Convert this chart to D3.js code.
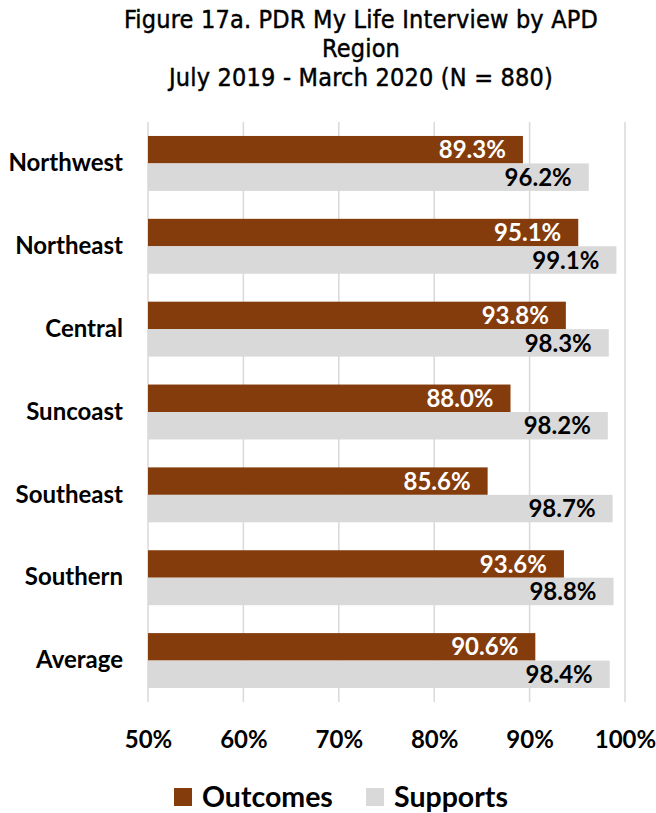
<!DOCTYPE html>
<html>
<head>
<meta charset="utf-8">
<script src="https://cdn.jsdelivr.net/npm/d3@7"></script>
<style>
  html, body { margin: 0; padding: 0; background: #fff; }
  svg { display: block; }
</style>
</head>
<body>
<svg id="chart" width="656" height="813"></svg>
<script>
const titleLines = ["Figure 17a. PDR My Life Interview by APD", "Region", "July 2019 - March 2020 (N = 880)"];
const categories = ["Northwest", "Northeast", "Central", "Suncoast", "Southeast", "Southern", "Average"];
const outcomes = [89.3, 95.1, 93.8, 88.0, 85.6, 93.6, 90.6];
const supports = [96.2, 99.1, 98.3, 98.2, 98.7, 98.8, 98.4];
const seriesNames = ["Outcomes", "Supports"];
const tickValues = [50, 60, 70, 80, 90, 100];
const tickLabels = ["50%", "60%", "70%", "80%", "90%", "100%"];

const colors = { Outcomes: "#843C0C", Supports: "#D9D9D9" };
const labelColors = { Outcomes: "#ffffff", Supports: "#000000" };
const font = "Lato, 'Open Sans', sans-serif";

const svg = d3.select("#chart");
const margin = { left: 148, right: 31, top: 122, bottom: 111 };
const W = 656, H = 813;

const x = d3.scaleLinear().domain([50, 100]).range([margin.left, W - margin.right]);
const y = d3.scaleBand().domain(categories).range([margin.top, H - margin.bottom]).paddingInner(0.337).paddingOuter(0.1685);
const ySub = d3.scaleBand().domain(seriesNames).range([0, y.bandwidth()]);

// title
const title = svg.append("text")
  .attr("text-anchor", "middle")
  .style("font-family", "'DejaVu Sans Condensed', 'Liberation Sans Narrow', sans-serif")
  .style("font-size", "25px")
  .style("letter-spacing", "0.2px")
  .style("fill", "#000")
  .style("stroke", "#000")
  .style("stroke-width", "0.45px");
titleLines.forEach((t, i) => {
  title.append("tspan").attr("x", 361).attr("y", 28 + i * 29).text(t);
});

// gridlines
svg.append("g").selectAll("line").data(tickValues).join("line")
  .attr("x1", d => x(d)).attr("x2", d => x(d))
  .attr("y1", margin.top).attr("y2", H - margin.bottom)
  .attr("stroke", "#d9d9d9").attr("stroke-width", 1.5);

// axis
const axis = d3.axisBottom(x).tickValues(tickValues).tickFormat((d, i) => tickLabels[i]).tickSize(0).tickPadding(0);
const ax = svg.append("g").attr("transform", `translate(0,${H - margin.bottom + 38})`).call(axis);
ax.select(".domain").remove();
ax.selectAll("text")
  .attr("dy", "0.35em")
  .style("font-family", font).style("font-weight", "bold").style("font-size", "24px").style("fill", "#000");

// category labels
const yAxis = d3.axisLeft(y).tickSize(0).tickPadding(25);
const ay = svg.append("g").attr("transform", `translate(${margin.left},0)`).call(yAxis);
ay.select(".domain").remove();
ay.selectAll("text")
  .style("font-family", font).style("font-weight", "bold").style("font-size", "24px").style("fill", "#000");

// bars
const rows = categories.map((c, i) => ({ cat: c, Outcomes: outcomes[i], Supports: supports[i] }));
const g = svg.append("g").selectAll("g").data(rows).join("g")
  .attr("transform", d => `translate(0,${y(d.cat)})`);

seriesNames.forEach(s => {
  g.append("rect")
    .attr("x", x(50))
    .attr("y", ySub(s))
    .attr("width", d => x(d[s]) - x(50))
    .attr("height", ySub.bandwidth())
    .attr("fill", colors[s]);
  g.append("text")
    .attr("x", d => x(d[s]) - 17)
    .attr("y", ySub(s) + ySub.bandwidth() / 2)
    .attr("dy", "0.36em")
    .attr("text-anchor", "end")
    .style("font-family", font).style("font-weight", "bold").style("font-size", "24px")
    .style("fill", labelColors[s])
    .text(d => d[s].toFixed(1) + "%");
});

// legend
const legend = svg.append("g").attr("transform", "translate(0,797)");
const legendItems = [{ name: "Outcomes", x: 174 }, { name: "Supports", x: 366 }];
legendItems.forEach(it => {
  legend.append("rect").attr("x", it.x).attr("y", -9).attr("width", 18).attr("height", 18).attr("fill", colors[it.name]);
  legend.append("text").attr("x", it.x + 28).attr("y", 0).attr("dy", "0.36em")
    .style("font-family", font).style("font-weight", "bold").style("font-size", "28.5px").style("fill", "#000")
    .text(it.name);
});
</script>
</body>
</html>
